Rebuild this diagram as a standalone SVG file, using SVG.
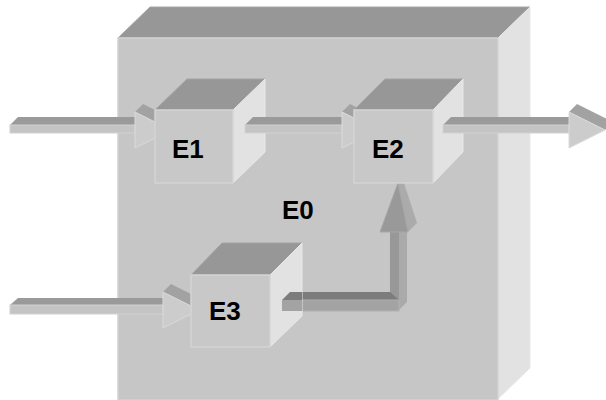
<svg xmlns="http://www.w3.org/2000/svg" width="606" height="400" viewBox="0 0 606 400">
<style>
.front{fill:#c6c6c6;stroke:#d2d2d2;stroke-width:1.5}
.top{fill:#979797;stroke:#a4a4a4;stroke-width:1}
.side{fill:#e2e2e2;stroke:#e8e8e8;stroke-width:1}
.cfront{fill:#c8c8c8;stroke:#d4d4d4;stroke-width:1.5}
.stop{fill:#9a9a9a}
.sfront{fill:#c4c4c4;stroke:#d2d2d2;stroke-width:1}
.htop{fill:#a2a2a2}
.hfront{fill:#cccccc;stroke:#dadada;stroke-width:1}
.lbl{font-family:"Liberation Sans",Arial,sans-serif;font-weight:bold;font-size:26px;fill:#000}
</style>
<rect width="606" height="400" fill="#ffffff"/>
<g id="E0">
  <polygon class="top" points="118,38 150,7 530,7 498,38"/>
  <polygon class="side" points="498,38 530,7 530,368 498,399"/>
  <rect class="front" x="118" y="38" width="380" height="362"/>
  <text class="lbl" x="282" y="219">E0</text>
</g>
<g id="connectors">
  <g id="in-E1">
    <polygon class="stop" points="10,125 18,117 135,117 135,125"/>
    <rect class="sfront" x="10" y="125" width="125" height="8"/>
    <polygon class="htop" points="135,112 143,104 179,122 171,130"/>
    <polygon class="hfront" points="135,112 171,130 135,148"/>
  </g>
  <g id="in-E3">
    <polygon class="stop" points="10,305 18,298 163,298 163,305"/>
    <rect class="sfront" x="10" y="305" width="153" height="9"/>
    <polygon class="htop" points="163,292 171,284 207,302 199,310"/>
    <polygon class="hfront" points="163,292 199,310 163,328"/>
  </g>
</g>
<g id="E1">
  <polygon class="top" points="155,110 187,79 265,79 233,110"/>
  <polygon class="side" points="233,110 265,79 265,152 233,183"/>
  <rect class="cfront" x="155" y="110" width="78" height="73"/>
  <text class="lbl" x="172" y="158">E1</text>
</g>
<g id="connectors2">
  <g id="E1-E2">
    <polygon class="stop" points="245,125 253,117 342,117 342,125"/>
    <rect class="sfront" x="245" y="125" width="97" height="8"/>
    <polygon class="htop" points="342,112 350,104 386,122 378,130"/>
    <polygon class="hfront" points="342,112 378,130 342,148"/>
  </g>
  <g id="E3-E2">
    <rect x="390" y="230" width="9" height="72" fill="#989898"/>
    <polygon points="399,230 407,230 407,302 399,310" fill="#aaaaaa"/>
    <polygon points="282,300 290,292 390,292 399,300" fill="#7c7c7c"/>
    <rect x="282" y="300" width="117" height="11" fill="#a3a3a3" stroke="#b0b0b0" stroke-width="1"/>
    <polygon points="404,183 398,183 408,232 417,223" fill="#ababab"/>
    <polygon points="398,183 380,232 408,232" fill="#999999" stroke="#a6a6a6" stroke-width="1"/>
  </g>
</g>
<g id="E2">
  <polygon class="top" points="354,110 385,79 463,79 433,110"/>
  <polygon class="side" points="433,110 463,79 463,152 433,183"/>
  <rect class="cfront" x="354" y="110" width="79" height="73"/>
  <text class="lbl" x="372" y="158">E2</text>
</g>
<g id="connectors3">
  <g id="E2-out">
    <polygon class="stop" points="443,125 451,117 569,117 569,125"/>
    <rect class="sfront" x="443" y="125" width="126" height="8"/>
    <polygon class="htop" points="569,112 577,104 613,122 605,130"/>
    <polygon class="hfront" points="569,112 605,130 569,148"/>
  </g>
</g>
<g id="E3">
  <polygon class="top" points="191,275 222,243 302,243 270,275"/>
  <polygon class="side" points="270,275 302,243 302,316 270,347"/>
  <rect class="cfront" x="191" y="275" width="79" height="72"/>
  <polygon points="282,300 290,292 302,292 302,300" fill="#7c7c7c"/>
  <rect x="282" y="300" width="20" height="11" fill="#a3a3a3"/>
  <text class="lbl" x="209" y="320">E3</text>
</g>
</svg>
